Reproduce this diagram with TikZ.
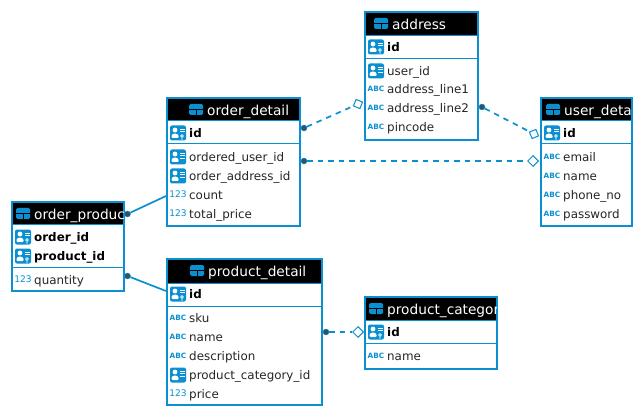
\documentclass[tikz,border=0pt]{standalone}
\usepackage{fontspec}
\setmainfont{DejaVu Sans}
\usetikzlibrary{shapes.geometric}
\definecolor{dbblue}{HTML}{0A90D0}
\definecolor{dotc}{HTML}{2F5368}
\tikzset{
  tablebox/.style={draw=dbblue,line width=2pt,fill=white},
  headerfill/.style={fill=black},
  sepline/.style={draw=dbblue,line width=1pt},
  rowtext/.style={anchor=base west,inner sep=0pt,font=\fontsize{11.9pt}{13pt}\selectfont,text=black!85},
  rowkey/.style={rowtext,font=\fontsize{11.9pt}{13pt}\selectfont\bfseries,text=black},
  titletext/.style={anchor=base west,inner sep=0pt,font=\fontsize{13.7pt}{16pt}\selectfont,text=white},
  abctext/.style={anchor=center,inner sep=0pt,font=\fontsize{7.3pt}{8pt}\selectfont\bfseries,text=dbblue},
  numtext/.style={anchor=center,inner sep=0pt,font=\fontsize{9.1pt}{10pt}\selectfont,text=dbblue},
  enddot/.style={circle,fill=dotc,draw=dbblue,line width=.4pt,minimum size=6pt,inner sep=0pt},
  enddiamond/.style={diamond,draw=dbblue,fill=white,line width=1pt,minimum size=11pt,inner sep=0pt},
  endsquare/.style={rectangle,draw=dbblue,fill=white,line width=1pt,minimum size=7pt,inner sep=0pt},
  solidlink/.style={draw=dbblue,line width=1.7pt},
  dashlink/.style={draw=dbblue,line width=1.7pt,dash pattern=on 5.5pt off 5pt},
}
% table: name, x1, y1, x2, y2, header bottom, separator y, icon x, title
\newcommand{\dbtable}[9]{%
  \node[tablebox,minimum width=#4pt-#2pt,minimum height=#5pt-#3pt,inner sep=0pt,outer sep=0pt,anchor=north west] (#1) at (#2,#3) {};
  \begin{scope}
    \clip (#2+1,#3+1) rectangle (#4-1,#6);
    \fill[headerfill] (#2+1,#3+1) rectangle (#4-1,#6);
    \fill[dbblue,rounded corners=1.5pt] (#8,#3+6) rectangle (#8+14,#3+17);
    \draw[black,line width=.8pt] (#8,#3+11.5) -- (#8+14,#3+11.5) (#8+7,#3+11.5) -- (#8+7,#3+17);
    \node[titletext] (#1title) at (#8+18,#3+17.5) {#9};
  \end{scope}
  \draw[sepline] (#2,#6) -- (#4,#6) (#2,#7) -- (#4,#7);
}
\newcommand{\personicon}[2]{%
  \fill[dbblue,rounded corners=2pt] (#1,#2-7.5) rectangle (#1+16,#2+7.5);
  \fill[white] (#1+5,#2-3) circle (2.4pt);
  \fill[white,rounded corners=1pt] (#1+1.5,#2+5) -- (#1+1.5,#2+2) -- (#1+4,#2+.5) -- (#1+6,#2+.5) -- (#1+8.5,#2+2) -- (#1+8.5,#2+5) -- cycle;
  \draw[white,line width=.8pt] (#1+10,#2-4) -- (#1+14.5,#2-4) (#1+10,#2-1.3) -- (#1+14.5,#2-1.3);
}
\newcommand{\pkrow}[4]{% name x y text
  \personicon{#2}{#3}
  \draw[white,line width=.8pt] (#2+12,#3+3) circle (1.4pt) (#2+12,#3+4.4) -- (#2+12,#3+7);
  \node[rowkey] (#1) at (#2+19,#3+4.5) {#4};
}
\newcommand{\fkrow}[4]{%
  \personicon{#2}{#3}
  \draw[white,line width=.8pt] (#2+10,#3+1.4) -- (#2+14.5,#3+1.4);
  \node[rowtext] (#1) at (#2+19,#3+4.5) {#4};
}
\newcommand{\abcrow}[4]{%
  \node[abctext] (#1i) at (#2+8,#3) {ABC};
  \node[rowtext] (#1) at (#2+19,#3+4.5) {#4};
}
\newcommand{\numrow}[4]{%
  \node[numtext] (#1i) at (#2+8,#3-.5) {123};
  \node[rowtext] (#1) at (#2+19,#3+4.5) {#4};
}
\begin{document}
\begin{tikzpicture}[x=1pt,y=-1pt]
\useasboundingbox (0,0) rectangle (643,417);
\fill[white] (0,0) rectangle (643,417);

% connectors
\node[enddot] (d1) at (127.5,214) {};
\node[enddot] (d2) at (127.5,276) {};
\coordinate (c1) at (166,196);
\coordinate (c2) at (166,291);
\draw[solidlink] (d1) -- (c1);
\draw[solidlink] (d2) -- (c2);

\node[enddot] (d3) at (304,128) {};
\node[endsquare,rotate=-22] (s3) at (358,104) {};
\draw[dashlink] (d3) -- (s3);
\node[enddot] (d4) at (304,161) {};
\node[enddiamond] (s4) at (533,161) {};
\draw[dashlink] (d4) -- (s4);
\node[enddot] (d5) at (482,107) {};
\node[endsquare,rotate=22] (s5) at (534,134) {};
\draw[dashlink] (d5) -- (s5);
\node[enddot] (d6) at (326,332) {};
\node[enddiamond] (s6) at (358,332) {};
\draw[dashlink] (d6) -- (s6);

% address
\dbtable{address}{365}{12}{478}{140}{36}{59}{374}{address}
\pkrow{ad0}{368}{47}{id}
\fkrow{ad1}{368}{71}{user\_id}
\abcrow{ad2}{368}{89}{address\_line1}
\abcrow{ad3}{368}{108}{address\_line2}
\abcrow{ad4}{368}{127}{pincode}

% order_detail
\dbtable{orderdetail}{167}{98}{300}{226}{121}{144}{189}{order\_detail}
\pkrow{od0}{170}{133}{id}
\fkrow{od1}{170}{157}{ordered\_user\_id}
\fkrow{od2}{170}{176}{order\_address\_id}
\numrow{od3}{170}{195}{count}
\numrow{od4}{170}{214}{total\_price}

% user_detail
\dbtable{userdetail}{541}{98}{632}{226}{121}{144}{546}{user\_detail}
\pkrow{ud0}{544}{133}{id}
\abcrow{ud1}{544}{157}{email}
\abcrow{ud2}{544}{176}{name}
\abcrow{ud3}{544}{195}{phone\_no}
\abcrow{ud4}{544}{214}{password}

% order_product
\dbtable{orderproduct}{12}{202}{124}{291}{224}{267}{16}{order\_product}
\pkrow{op0}{15}{237}{order\_id}
\pkrow{op1}{15}{256}{product\_id}
\numrow{op2}{15}{280}{quantity}

% product_detail
\dbtable{productdetail}{167}{259}{322}{405}{283}{306}{190}{product\_detail}
\pkrow{pd0}{170}{294}{id}
\abcrow{pd1}{170}{318}{sku}
\abcrow{pd2}{170}{337}{name}
\abcrow{pd3}{170}{356}{description}
\fkrow{pd4}{170}{375}{product\_category\_id}
\numrow{pd5}{170}{394}{price}

% product_category
\dbtable{productcategory}{365}{297}{497}{369}{320}{343}{369}{product\_category}
\pkrow{pc0}{368}{332}{id}
\abcrow{pc1}{368}{356}{name}
\end{tikzpicture}
\end{document}
